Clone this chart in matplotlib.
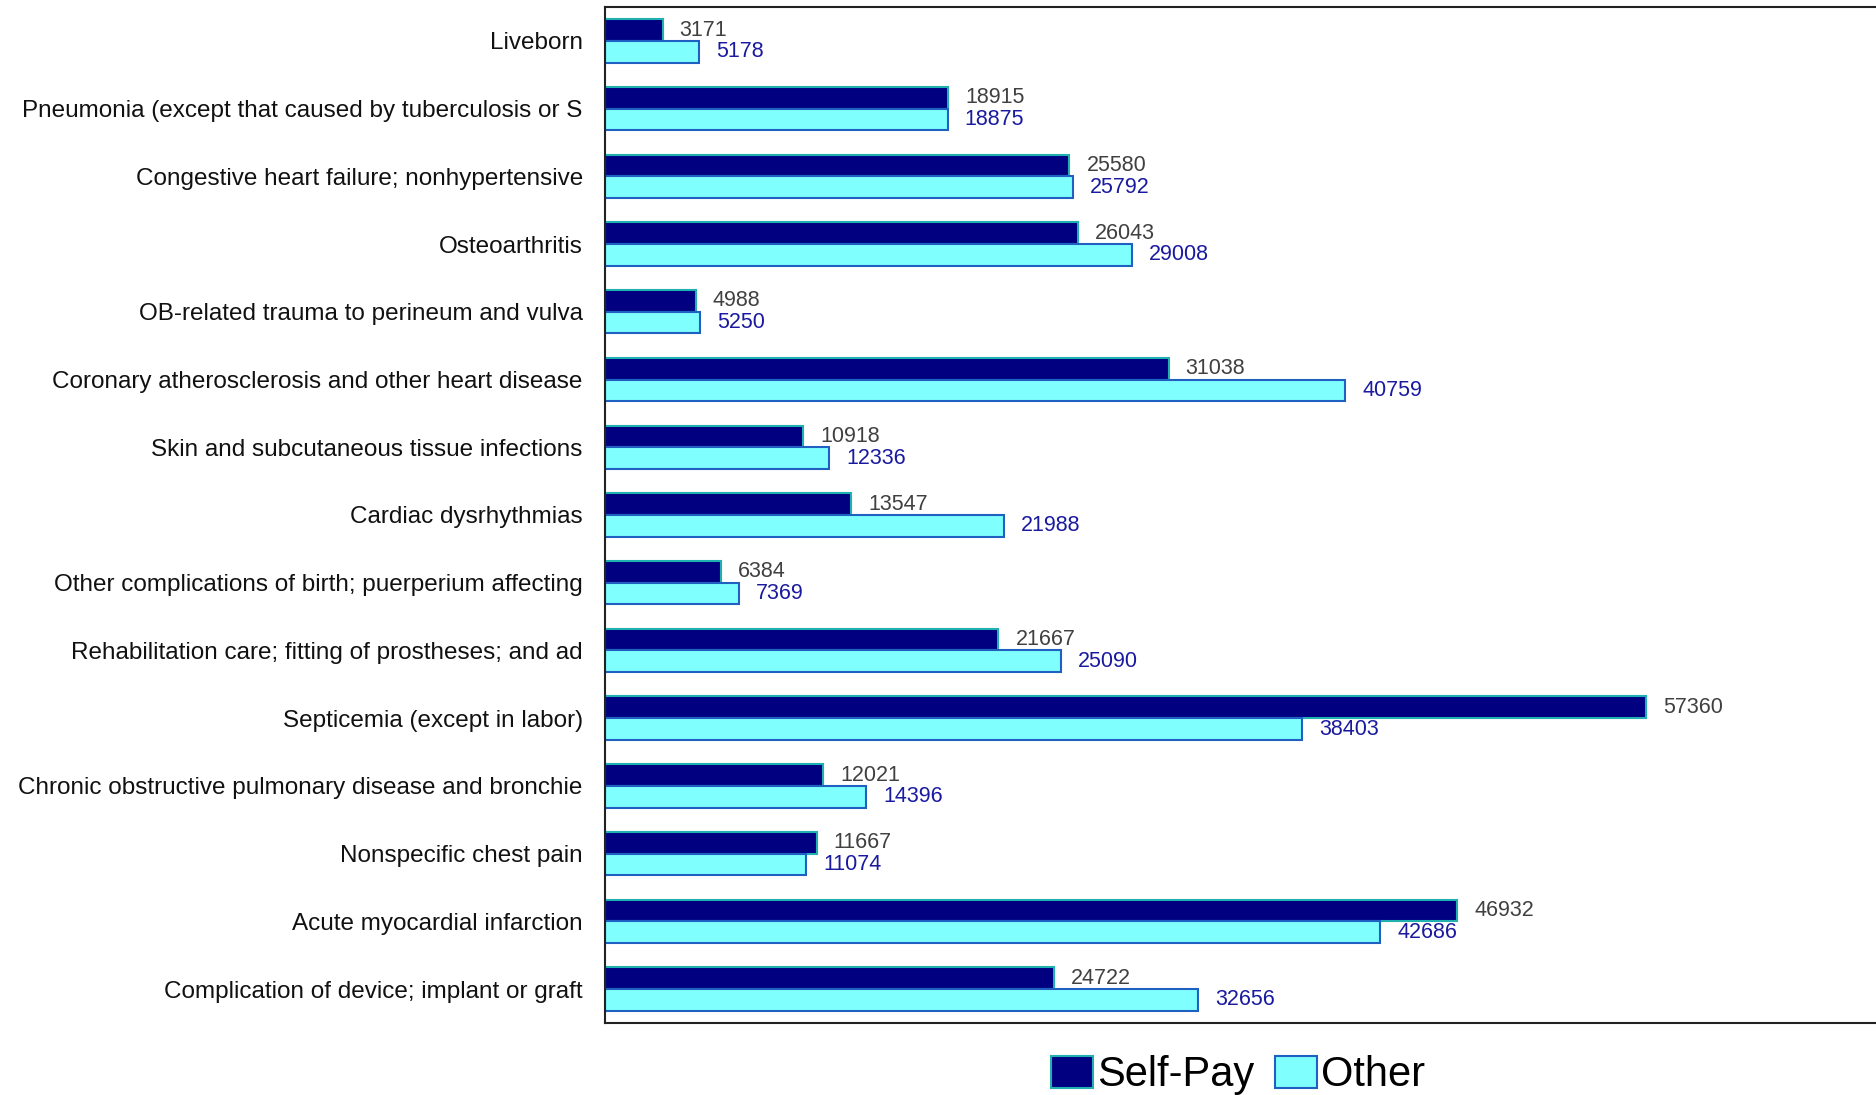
import numpy as np
import matplotlib
matplotlib.use("Agg")
import matplotlib.pyplot as plt

categories = [
    "Liveborn",
    "Pneumonia (except that caused by tuberculosis or S",
    "Congestive heart failure; nonhypertensive",
    "Osteoarthritis",
    "OB-related trauma to perineum and vulva",
    "Coronary atherosclerosis and other heart disease",
    "Skin and subcutaneous tissue infections",
    "Cardiac dysrhythmias",
    "Other complications of birth; puerperium affecting",
    "Rehabilitation care; fitting of prostheses; and ad",
    "Septicemia (except in labor)",
    "Chronic obstructive pulmonary disease and bronchie",
    "Nonspecific chest pain",
    "Acute myocardial infarction",
    "Complication of device; implant or graft",
]
self_pay = [3171, 18915, 25580, 26043, 4988, 31038, 10918, 13547, 6384,
            21667, 57360, 12021, 11667, 46932, 24722]
other = [5178, 18875, 25792, 29008, 5250, 40759, 12336, 21988, 7369,
         25090, 38403, 14396, 11074, 42686, 32656]

plt.rcParams['font.family'] = ['Liberation Sans', 'DejaVu Sans']

fig = plt.figure(figsize=(18.76, 10.95), dpi=100)
ax = fig.add_axes([0.3225, 0.0658, 0.6775, 0.9278])

y = np.arange(len(categories))
h = 0.32
b1 = ax.barh(y - h / 2, self_pay, height=h, color='#000080',
             edgecolor='#20B0B0', linewidth=1.5, label='Self-Pay')
b2 = ax.barh(y + h / 2, other, height=h, color='#80FFFF',
             edgecolor='#2060C0', linewidth=1.5, label='Other')

for rect, v in zip(b1, self_pay):
    ax.annotate(str(v), (rect.get_width(), rect.get_y() + rect.get_height() / 2),
                xytext=(17, 0), textcoords='offset pixels', va='center',
                ha='left', fontsize=15.5, color='#404040')
for rect, v in zip(b2, other):
    ax.annotate(str(v), (rect.get_width(), rect.get_y() + rect.get_height() / 2),
                xytext=(17, 0), textcoords='offset pixels', va='center',
                ha='left', fontsize=15.5, color='#1a1aa0')

ax.set_xlim(0, 70000)
ax.set_ylim(len(categories) - 0.5, -0.5)
ax.set_yticks(y)
ax.set_yticklabels(categories, fontsize=17.5, color='#111111')
ax.tick_params(axis='y', length=0, pad=16)
ax.set_xticks([])
ax.spines['right'].set_visible(False)
for s in ['left', 'top', 'bottom']:
    ax.spines[s].set_linewidth(1.5)
    ax.spines[s].set_color('#222222')

fig.legend(handles=[b1, b2], loc='center', bbox_to_anchor=(0.66, 0.018),
           ncol=2, frameon=False, fontsize=30, handlelength=1.0,
           handleheight=0.8, handletextpad=0.1, columnspacing=0.5,
           borderpad=0)

plt.savefig("out.png", dpi=100)
